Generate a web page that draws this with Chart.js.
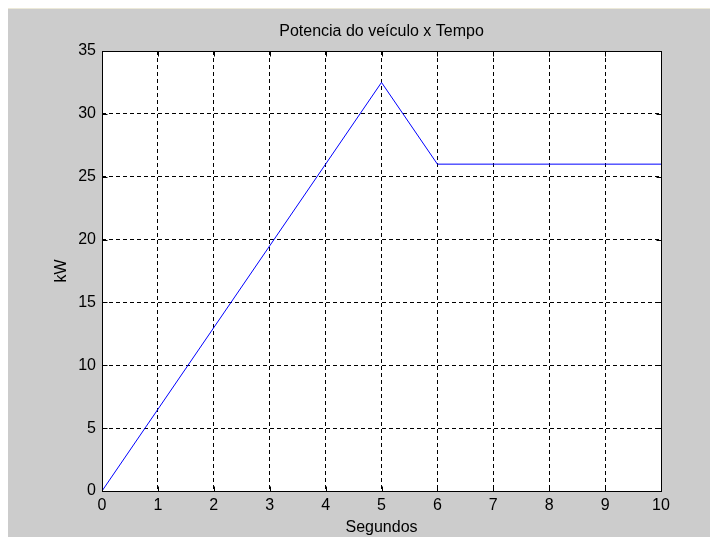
<!DOCTYPE html>
<html>
<head>
<meta charset="utf-8">
<script src="https://cdn.jsdelivr.net/npm/chart.js@4/dist/chart.umd.min.js"></script>
<style>
  html, body { margin: 0; padding: 0; background: #fff; }
  #wrap { position: relative; width: 710px; height: 537px; overflow: hidden; }
  #bg { position: absolute; left: 8px; top: 8px; right: 0; bottom: 0; background: #cccccc; border-top: 1px solid #ece9d8; }
  #chart { position: absolute; left: 0; top: 0; }
</style>
</head>
<body>
<div id="wrap">
  <div id="bg"></div>
  <canvas id="chart" width="710" height="537"></canvas>
</div>
<script>
// Potencia do veiculo x Tempo
const tempo = [0, 1, 2, 3, 4, 5, 6, 7, 8, 9, 10];
const potencia = [0, 6.5, 13, 19.5, 26, 32.5, 26, 26, 26, 26, 26];
const xTicks = [0, 1, 2, 3, 4, 5, 6, 7, 8, 9, 10];
const yTicks = [0, 5, 10, 15, 20, 25, 30, 35];

const FONT = "'Liberation Sans', Arial, sans-serif";

// white axes background + black box + small inward ticks
const axesBox = {
  id: "axesBox",
  beforeDraw(chart) {
    const { ctx, chartArea: a } = chart;
    ctx.save();
    ctx.fillStyle = "#fff";
    ctx.fillRect(a.left, a.top, a.right - a.left, a.bottom - a.top);
    ctx.restore();
  },
  afterDraw(chart) {
    const { ctx, chartArea: a, scales } = chart;
    ctx.save();
    ctx.strokeStyle = "#000";
    ctx.lineWidth = 1;
    ctx.setLineDash([]);
    const L = Math.round(a.left) + 0.5, R = Math.round(a.right) + 0.5;
    const T = Math.round(a.top) + 0.5, B = Math.round(a.bottom) + 0.5;
    ctx.strokeRect(L, T, R - L, B - T);
    ctx.beginPath();
    for (const v of xTicks) {
      const x = Math.round(scales.x.getPixelForValue(v)) + 0.5;
      ctx.moveTo(x, B); ctx.lineTo(x, B - 5);
      ctx.moveTo(x, T); ctx.lineTo(x, T + 5);
    }
    for (const v of yTicks) {
      const y = Math.round(scales.y.getPixelForValue(v)) + 0.5;
      ctx.moveTo(L, y); ctx.lineTo(L + 5, y);
      ctx.moveTo(R, y); ctx.lineTo(R - 5, y);
    }
    ctx.stroke();
    ctx.restore();
  }
};

new Chart(document.getElementById("chart"), {
  type: "line",
  data: {
    datasets: [{
      data: tempo.map((t, i) => ({ x: t, y: potencia[i] })),
      borderColor: "#0000ff",
      borderWidth: 1,
      pointRadius: 0,
      tension: 0,
      fill: false
    }]
  },
  options: {
    responsive: false,
    animation: false,
    events: [],
    layout: { padding: { left: 0, right: 49, top: 0, bottom: 0 } },
    plugins: {
      legend: { display: false },
      tooltip: { enabled: false }
    },
    scales: {
      x: {
        type: "linear",
        min: 0, max: 10,
        afterBuildTicks(scale) { scale.ticks = xTicks.map(v => ({ value: v })); },
        afterFit(scale) { scale.height = 46; },
        ticks: { color: "#000", padding: 5, font: { family: FONT, size: 16 } },
        grid: { color: "#000", drawTicks: false },
        border: { display: false, dash: [4, 3] },
        title: {
          display: true, text: "Segundos", color: "#000",
          font: { family: FONT, size: 16, lineHeight: 1 },
          padding: { top: 0, bottom: 1 }
        }
      },
      // top axis only carries the figure title, centred over the axes
      top: {
        type: "linear",
        position: "top",
        min: 0, max: 10,
        afterFit(scale) { scale.height = 51; },
        ticks: { display: false },
        grid: { display: false, drawTicks: false },
        border: { display: false },
        title: {
          display: true, text: "Potencia do veículo x Tempo", color: "#000",
          font: { family: FONT, size: 16, lineHeight: 1 },
          padding: { top: 24, bottom: 0 }
        }
      },
      y: {
        type: "linear",
        min: 0, max: 35,
        afterBuildTicks(scale) { scale.ticks = yTicks.map(v => ({ value: v })); },
        afterFit(scale) { scale.width = 102; },
        ticks: { color: "#000", padding: 6, font: { family: FONT, size: 16 } },
        grid: { color: "#000", drawTicks: false },
        border: { display: false, dash: [4, 3] },
        title: {
          display: true, text: "kW", color: "#000",
          font: { family: FONT, size: 16, lineHeight: 1 },
          padding: { top: 54, bottom: 0 }
        }
      }
    }
  },
  plugins: [axesBox]
});
</script>
</body>
</html>
